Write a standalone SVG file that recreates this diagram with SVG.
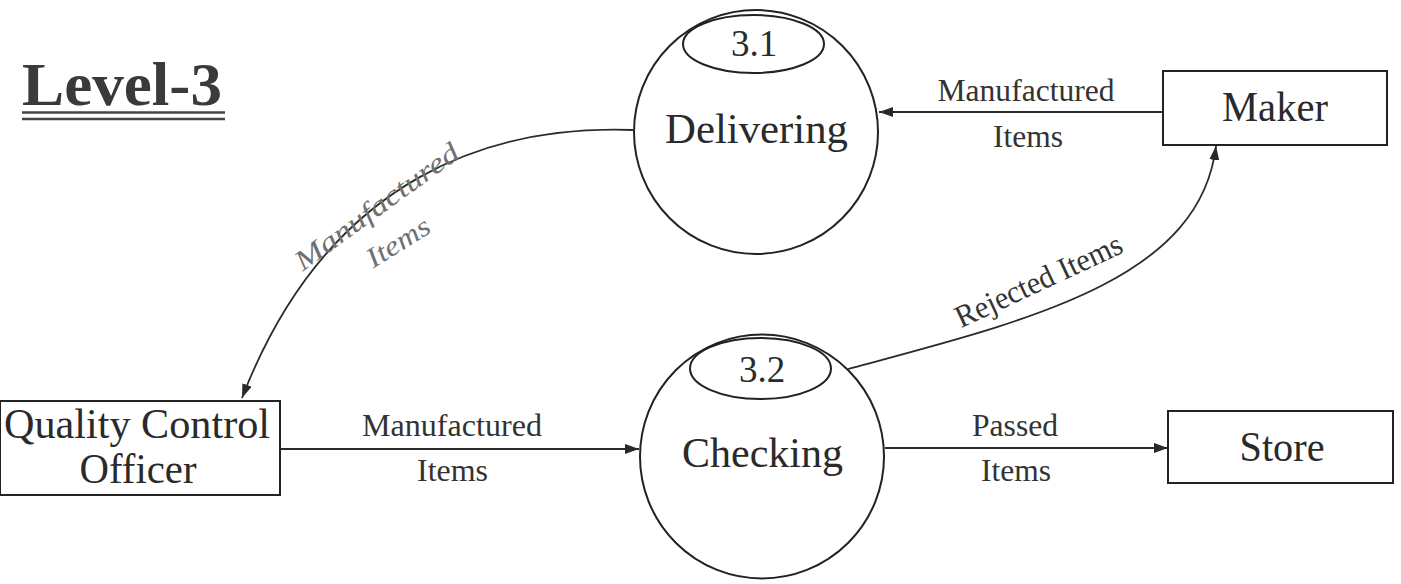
<svg xmlns="http://www.w3.org/2000/svg" width="1401" height="584" viewBox="0 0 1401 584">
  <style>
    .bg { fill: #ffffff; }
    .shape { fill: none; stroke: #222222; stroke-width: 2; }
    .flow { fill: none; stroke: #2a2a2a; stroke-width: 1.8; }
    .node-label { font-family: "Liberation Serif", "Times New Roman", serif; font-size: 42px; fill: #2a2a2a; text-anchor: middle; }
    .num-label { font-family: "Liberation Serif", "Times New Roman", serif; font-size: 37px; fill: #2a2a2a; text-anchor: middle; }
    .flow-label { font-family: "Liberation Serif", "Times New Roman", serif; font-size: 31.5px; fill: #333333; text-anchor: middle; }
    .hand-label { font-family: "Liberation Serif", "Times New Roman", serif; font-style: italic; font-size: 28px; fill: #707070; text-anchor: middle; }
    .title { font-family: "Liberation Serif", "Times New Roman", serif; font-weight: bold; font-size: 62px; fill: #3a3a3a; }
    .rule { stroke: #444444; stroke-width: 2.5; }
  </style>
  <defs>
    <marker id="arrow" viewBox="0 0 14 10" refX="14" refY="5" markerWidth="14" markerHeight="10" markerUnits="userSpaceOnUse" orient="auto">
      <path d="M0,0 L14,5 L0,10 z" fill="#2a2a2a"/>
    </marker>
  </defs>

  <rect class="bg" x="0" y="0" width="1401" height="584"/>

  <!-- Title -->
  <g id="title">
    <text class="title" x="22" y="105" textLength="200" lengthAdjust="spacingAndGlyphs">Level-3</text>
    <line class="rule" x1="22" y1="112.5" x2="225" y2="112.5"/>
    <line class="rule" x1="22" y1="119" x2="225" y2="119"/>
  </g>

  <!-- Data flows -->
  <g id="connectors">
    <!-- Maker to Delivering -->
    <line class="flow" x1="1163" y1="112" x2="879" y2="112" marker-end="url(#arrow)"/>
    <text class="flow-label" x="1026" y="101" textLength="177" lengthAdjust="spacingAndGlyphs">Manufactured</text>
    <text class="flow-label" x="1028" y="147" textLength="70" lengthAdjust="spacingAndGlyphs">Items</text>

    <!-- Delivering to Quality Control Officer -->
    <path class="flow" d="M633,130 C500,125 330,170 242,398" marker-end="url(#arrow)"/>
    <text class="hand-label" x="382" y="214" textLength="196" lengthAdjust="spacingAndGlyphs" transform="rotate(-36 382 214)">Manufactured</text>
    <text class="hand-label" x="403" y="250" textLength="70" lengthAdjust="spacingAndGlyphs" transform="rotate(-32 403 250)">Items</text>

    <!-- Quality Control Officer to Checking -->
    <line class="flow" x1="281" y1="449" x2="639" y2="449" marker-end="url(#arrow)"/>
    <text class="flow-label" x="452" y="436" textLength="180" lengthAdjust="spacingAndGlyphs">Manufactured</text>
    <text class="flow-label" x="452.5" y="481" textLength="71" lengthAdjust="spacingAndGlyphs">Items</text>

    <!-- Checking to Store -->
    <line class="flow" x1="885" y1="448" x2="1168" y2="448" marker-end="url(#arrow)"/>
    <text class="flow-label" x="1015" y="436" textLength="86" lengthAdjust="spacingAndGlyphs">Passed</text>
    <text class="flow-label" x="1016" y="481" textLength="70" lengthAdjust="spacingAndGlyphs">Items</text>

    <!-- Checking back to Maker -->
    <path class="flow" d="M848,369 C1030,320 1200,280 1216,146" marker-end="url(#arrow)"/>
    <text class="flow-label" x="1043" y="290" font-size="30" textLength="181" lengthAdjust="spacingAndGlyphs" transform="rotate(-25 1043 290)">Rejected Items</text>
  </g>

  <!-- Process 3.1 -->
  <g id="process-3-1">
    <circle class="shape" cx="756" cy="132" r="122"/>
    <ellipse class="shape" cx="753.5" cy="44" rx="70.5" ry="29"/>
    <text class="num-label" x="754" y="56">3.1</text>
    <text class="node-label" x="756.5" y="143" textLength="183" lengthAdjust="spacingAndGlyphs">Delivering</text>
  </g>

  <!-- Process 3.2 -->
  <g id="process-3-2">
    <circle class="shape" cx="762" cy="456.5" r="122"/>
    <ellipse class="shape" cx="760.5" cy="368.5" rx="70.5" ry="30.5"/>
    <text class="num-label" x="762" y="382">3.2</text>
    <text class="node-label" x="762.5" y="467" textLength="161" lengthAdjust="spacingAndGlyphs">Checking</text>
  </g>

  <!-- External entity: Maker -->
  <g id="maker">
    <rect class="shape" x="1163" y="71" width="224" height="74"/>
    <text class="node-label" x="1275" y="121" textLength="106" lengthAdjust="spacingAndGlyphs">Maker</text>
  </g>

  <!-- External entity: Quality Control Officer -->
  <g id="quality-control-officer">
    <rect class="shape" x="0" y="401" width="280" height="94"/>
    <text class="node-label" x="137" y="438" textLength="266" lengthAdjust="spacingAndGlyphs">Quality Control</text>
    <text class="node-label" x="138" y="483" textLength="117" lengthAdjust="spacingAndGlyphs">Officer</text>
  </g>

  <!-- External entity: Store -->
  <g id="store">
    <rect class="shape" x="1168" y="411" width="225" height="72"/>
    <text class="node-label" x="1282" y="461" textLength="85" lengthAdjust="spacingAndGlyphs">Store</text>
  </g>
</svg>
